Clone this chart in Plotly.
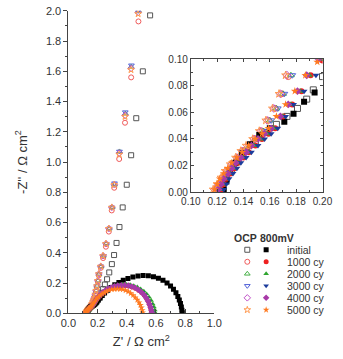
import plotly.graph_objects as go

# ---------------- data ----------------
labels = ["initial", "1000 cy", "2000 cy", "3000 cy", "4000 cy", "5000 cy"]

# OCP (open symbols)
ocp_init_x = [0.124,0.127,0.131,0.136,0.142,0.149,0.157,0.165,0.173,0.181,0.188,0.193,0.2,0.208,0.217,0.227,0.238,0.25,0.265,0.28,0.298,0.313,0.33,0.35,0.372,0.40,0.43,0.465,0.51,0.56]
ocp_init_y = [0.003,0.01,0.017,0.024,0.031,0.038,0.045,0.051,0.057,0.063,0.07,0.077,0.087,0.1,0.115,0.135,0.16,0.19,0.225,0.27,0.325,0.385,0.465,0.57,0.70,0.85,1.045,1.29,1.6,1.97]

ocp_1000_x = [0.119,0.122,0.125,0.128,0.132,0.136,0.14,0.144,0.149,0.154,0.159,0.164,0.169,0.174,0.179,0.184,0.19,0.195,0.202,0.208,0.222,0.238,0.257,0.277,0.297,0.314,0.348,0.388,0.43,0.48]
ocp_1000_y = [0.002,0.006,0.011,0.016,0.021,0.026,0.031,0.035,0.04,0.046,0.054,0.063,0.074,0.087,0.103,0.122,0.146,0.175,0.208,0.25,0.30,0.365,0.44,0.54,0.68,0.83,1.02,1.26,1.56,1.93]

ocp_2000_x = [0.12,0.123,0.126,0.129,0.133,0.137,0.141,0.145,0.15,0.155,0.16,0.165,0.17,0.176,0.181,0.186,0.192,0.197,0.204,0.21,0.224,0.24,0.26,0.28,0.30,0.316,0.35,0.39,0.43,0.48]
ocp_2000_y = [0.002,0.006,0.011,0.016,0.021,0.026,0.031,0.035,0.04,0.046,0.054,0.063,0.074,0.088,0.105,0.125,0.15,0.18,0.215,0.26,0.31,0.38,0.46,0.56,0.70,0.85,1.07,1.32,1.63,2.0]

ocp_3000_x = [0.121,0.124,0.127,0.13,0.134,0.138,0.142,0.146,0.151,0.156,0.161,0.166,0.171,0.177,0.182,0.187,0.192,0.198,0.204,0.211,0.224,0.24,0.259,0.279,0.299,0.316,0.35,0.39,0.432,0.478]
ocp_3000_y = [0.002,0.006,0.011,0.016,0.021,0.026,0.031,0.035,0.04,0.046,0.054,0.063,0.074,0.088,0.105,0.125,0.15,0.18,0.215,0.26,0.31,0.38,0.46,0.56,0.70,0.86,1.07,1.33,1.64,2.0]

ocp_4000_x = [0.118,0.121,0.124,0.127,0.131,0.135,0.139,0.143,0.148,0.153,0.158,0.163,0.168,0.173,0.179,0.185,0.19,0.196,0.202,0.209,0.222,0.238,0.258,0.278,0.298,0.315,0.349,0.389,0.43,0.479]
ocp_4000_y = [0.002,0.006,0.011,0.016,0.021,0.026,0.031,0.035,0.04,0.046,0.054,0.063,0.074,0.088,0.105,0.125,0.15,0.18,0.215,0.26,0.31,0.38,0.46,0.56,0.70,0.85,1.06,1.31,1.62,1.99]

ocp_5000_x = [0.117,0.12,0.123,0.126,0.13,0.134,0.138,0.142,0.147,0.152,0.157,0.162,0.167,0.172,0.178,0.184,0.19,0.195,0.201,0.208,0.221,0.237,0.257,0.277,0.297,0.314,0.348,0.388,0.429,0.478]
ocp_5000_y = [0.002,0.006,0.011,0.016,0.021,0.026,0.031,0.035,0.04,0.046,0.054,0.063,0.074,0.088,0.105,0.125,0.15,0.18,0.215,0.26,0.31,0.38,0.46,0.56,0.70,0.85,1.05,1.30,1.61,1.98]

# 800 mV (filled symbols)
mv_init_x = [0.125,0.127,0.130,0.134,0.139,0.145,0.152,0.160,0.171,0.178,0.186,0.194,0.205,0.218,0.232,0.248,0.268,0.292,0.318,0.346,0.376,0.408,0.442,0.477,0.512,0.548,0.583,0.617,0.648,0.676,0.700,0.720,0.737,0.750,0.760,0.768,0.774,0.778,0.780]
mv_init_y = [0.002,0.008,0.015,0.022,0.029,0.036,0.043,0.048,0.053,0.059,0.068,0.075,0.087,0.101,0.117,0.134,0.152,0.170,0.188,0.204,0.218,0.230,0.240,0.246,0.249,0.248,0.242,0.232,0.218,0.200,0.180,0.158,0.135,0.111,0.087,0.064,0.041,0.020,0.003]

mv_1000_x = [0.123,0.125,0.127,0.130,0.133,0.136,0.140,0.144,0.149,0.154,0.159,0.164,0.170,0.177,0.184,0.191,0.200,0.211,0.224,0.239,0.256,0.275,0.296,0.318,0.341,0.365,0.389,0.413,0.437,0.460,0.482,0.502,0.520,0.535,0.547,0.556,0.563,0.568,0.570]
mv_1000_y = [0.002,0.006,0.010,0.014,0.018,0.022,0.026,0.030,0.035,0.040,0.044,0.048,0.057,0.066,0.076,0.088,0.099,0.111,0.124,0.136,0.148,0.159,0.168,0.175,0.180,0.183,0.183,0.180,0.174,0.165,0.153,0.138,0.120,0.100,0.079,0.058,0.038,0.019,0.003]

mv_2000_x = [0.123,0.125,0.127,0.130,0.133,0.136,0.140,0.144,0.148,0.153,0.158,0.163,0.170,0.176,0.183,0.190,0.199,0.210,0.224,0.240,0.258,0.278,0.300,0.324,0.348,0.373,0.398,0.423,0.448,0.472,0.495,0.517,0.536,0.553,0.567,0.578,0.586,0.592,0.595]
mv_2000_y = [0.002,0.006,0.010,0.014,0.018,0.022,0.026,0.030,0.035,0.040,0.044,0.048,0.057,0.066,0.076,0.088,0.100,0.113,0.127,0.140,0.153,0.164,0.174,0.182,0.187,0.190,0.190,0.188,0.182,0.173,0.160,0.145,0.127,0.106,0.084,0.062,0.041,0.021,0.004]

mv_3000_x = [0.125,0.127,0.129,0.132,0.135,0.138,0.142,0.146,0.151,0.156,0.161,0.166,0.172,0.178,0.186,0.195,0.204,0.215,0.228,0.243,0.260,0.279,0.300,0.322,0.345,0.369,0.393,0.417,0.441,0.464,0.486,0.506,0.524,0.539,0.551,0.560,0.567,0.572,0.575]
mv_3000_y = [0.002,0.006,0.010,0.014,0.018,0.022,0.026,0.030,0.035,0.040,0.044,0.048,0.057,0.066,0.076,0.088,0.099,0.111,0.124,0.137,0.149,0.160,0.169,0.176,0.181,0.184,0.184,0.181,0.175,0.166,0.154,0.139,0.121,0.101,0.080,0.059,0.039,0.020,0.004]

mv_4000_x = [0.121,0.123,0.125,0.128,0.131,0.134,0.138,0.142,0.146,0.151,0.156,0.161,0.168,0.174,0.181,0.188,0.197,0.208,0.221,0.236,0.253,0.272,0.293,0.315,0.338,0.362,0.386,0.410,0.434,0.457,0.479,0.499,0.517,0.532,0.545,0.555,0.563,0.568,0.571]
mv_4000_y = [0.002,0.006,0.010,0.014,0.018,0.022,0.026,0.030,0.035,0.040,0.044,0.048,0.057,0.066,0.076,0.088,0.100,0.113,0.126,0.139,0.151,0.162,0.171,0.178,0.183,0.186,0.186,0.183,0.177,0.168,0.155,0.140,0.122,0.102,0.081,0.060,0.040,0.021,0.004]

mv_5000_x = [0.118,0.120,0.122,0.125,0.128,0.131,0.135,0.139,0.144,0.149,0.154,0.159,0.165,0.172,0.179,0.187,0.196,0.206,0.218,0.231,0.246,0.262,0.279,0.297,0.316,0.335,0.354,0.373,0.392,0.410,0.427,0.443,0.458,0.472,0.484,0.494,0.501,0.506,0.509]
mv_5000_y = [0.002,0.006,0.010,0.014,0.018,0.022,0.026,0.030,0.035,0.040,0.044,0.048,0.057,0.066,0.076,0.088,0.098,0.108,0.118,0.128,0.137,0.145,0.152,0.157,0.160,0.161,0.160,0.157,0.151,0.143,0.132,0.119,0.104,0.088,0.071,0.054,0.037,0.020,0.004]

ocp_x = [ocp_init_x, ocp_1000_x, ocp_2000_x, ocp_3000_x, ocp_4000_x, ocp_5000_x]
ocp_y = [ocp_init_y, ocp_1000_y, ocp_2000_y, ocp_3000_y, ocp_4000_y, ocp_5000_y]
mv_x = [mv_init_x, mv_1000_x, mv_2000_x, mv_3000_x, mv_4000_x, mv_5000_x]
mv_y = [mv_init_y, mv_1000_y, mv_2000_y, mv_3000_y, mv_4000_y, mv_5000_y]

# ---------------- styles ----------------
open_syms = ["square-open", "circle-open", "triangle-up-open", "triangle-down-open", "diamond-open", "star-open"]
fill_syms = ["square", "circle", "triangle-up", "triangle-down", "diamond", "star"]
open_cols = ["#555555", "#f05a5a", "#45b045", "#5060d8", "#c050c8", "#ff9a50"]
fill_cols = ["#000000", "#ee2020", "#2fa52f", "#1c3c9c", "#a83aa8", "#ff7a20"]

W, H = 343, 359
FONT = "Liberation Sans, Arial, sans-serif"
TXT = "#333333"
LINE = "#444444"

def px(x):
    return x / W

def py(y):
    return 1 - y / H

fig = go.Figure()

for xa, ya, ms in [("x", "y", 5), ("x2", "y2", 6)]:
    for i in range(6):
        fig.add_trace(go.Scatter(
            x=ocp_x[i], y=ocp_y[i], mode="markers", xaxis=xa, yaxis=ya,
            marker=dict(symbol=open_syms[i], size=ms, color=open_cols[i], line=dict(width=1, color=open_cols[i])),
            showlegend=False, hoverinfo="skip"))
    for i in range(6):
        fig.add_trace(go.Scatter(
            x=mv_x[i], y=mv_y[i], mode="markers", xaxis=xa, yaxis=ya,
            marker=dict(symbol=fill_syms[i], size=ms, color=fill_cols[i], line=dict(width=0)),
            showlegend=False, hoverinfo="skip"))

# ---------------- hand-made legend (layout) ----------------
LEG_OPEN_X, LEG_FILL_X, LEG_TEXT_X = 252, 272, 292
LEG_HEAD_Y, LEG_ROW0_Y, LEG_ROW_H = 240, 252.5, 12.4
rows = list(range(6))
fig.add_trace(go.Scatter(
    x=[LEG_OPEN_X] * 6, y=[LEG_ROW0_Y + r * LEG_ROW_H for r in rows], mode="markers",
    xaxis="x3", yaxis="y3",
    marker=dict(symbol=open_syms, size=5, color=open_cols, line=dict(width=1, color=open_cols)),
    showlegend=False, hoverinfo="skip"))
fig.add_trace(go.Scatter(
    x=[LEG_FILL_X] * 6, y=[LEG_ROW0_Y + r * LEG_ROW_H for r in rows], mode="markers",
    xaxis="x3", yaxis="y3",
    marker=dict(symbol=fill_syms, size=5, color=fill_cols, line=dict(width=0)),
    showlegend=False, hoverinfo="skip"))

annots = []
for r in rows:
    annots.append(dict(x=LEG_TEXT_X, y=LEG_ROW0_Y + r * LEG_ROW_H, xref="x3", yref="y3",
                       text=labels[r], showarrow=False, xanchor="left", yanchor="middle",
                       font=dict(family=FONT, size=10.5, color=TXT)))
annots.append(dict(x=250, y=LEG_HEAD_Y, xref="x3", yref="y3", text="<b>OCP</b>", showarrow=False,
                   xanchor="center", yanchor="middle", font=dict(family=FONT, size=10.5, color=TXT)))
annots.append(dict(x=283, y=LEG_HEAD_Y, xref="x3", yref="y3", text="<b>800mV</b>", showarrow=False,
                   xanchor="center", yanchor="middle", font=dict(family=FONT, size=10.5, color=TXT)))

tickfont = dict(family=FONT, size=11, color=TXT)
insetfont = dict(family=FONT, size=10, color=TXT)

fig.update_layout(
    width=W, height=H, margin=dict(l=0, r=0, t=0, b=0),
    paper_bgcolor="white", plot_bgcolor="rgba(0,0,0,0)",
    font=dict(family=FONT, color=TXT),
    showlegend=False,
    annotations=annots,
    xaxis=dict(domain=[px(62), px(217)], range=[0, 1.0001], anchor="y",
               tickmode="linear", tick0=0, dtick=0.2, tickformat=".1f",
               ticks="inside", ticklen=4, tickcolor=LINE,
               minor=dict(dtick=0.1, ticks="inside", ticklen=2, tickcolor=LINE),
               showline=True, linecolor=LINE, linewidth=1, showgrid=False, zeroline=False,
               tickfont=tickfont,
               title=dict(text="Z' / Ω cm<sup>2</sup>", font=dict(family=FONT, size=13, color=TXT), standoff=8)),
    yaxis=dict(domain=[py(318), py(6)], range=[0, 2.0002], anchor="x",
               tickmode="linear", tick0=0, dtick=0.2, tickformat=".1f",
               ticks="outside", ticklen=4, tickcolor=LINE,
               minor=dict(dtick=0.1, ticks="outside", ticklen=2, tickcolor=LINE),
               showline=True, linecolor=LINE, linewidth=1, showgrid=False, zeroline=False,
               tickfont=tickfont,
               title=dict(text="-Z'' / Ω cm<sup>2</sup>", font=dict(family=FONT, size=13, color=TXT), standoff=15)),
    xaxis2=dict(domain=[px(192), px(332)], range=[0.10, 0.2001], anchor="y2",
                tickmode="linear", tick0=0.10, dtick=0.02, tickformat=".2f",
                ticks="inside", ticklen=3, tickcolor=LINE,
                minor=dict(dtick=0.01, ticks="inside", ticklen=2, tickcolor=LINE),
                showline=True, linecolor=LINE, linewidth=1, mirror="ticks",
                showgrid=False, zeroline=False, tickfont=insetfont),
    yaxis2=dict(domain=[py(193), py(56)], range=[0, 0.10001], anchor="x2",
                tickmode="linear", tick0=0, dtick=0.02, tickformat=".2f",
                ticks="inside", ticklen=3, tickcolor=LINE,
                minor=dict(dtick=0.01, ticks="inside", ticklen=2, tickcolor=LINE),
                showline=True, linecolor=LINE, linewidth=1, mirror="ticks",
                showgrid=False, zeroline=False, tickfont=insetfont),
    xaxis3=dict(domain=[0, 1], range=[0, W], visible=False, anchor="y3", fixedrange=True),
    yaxis3=dict(domain=[0, 1], range=[H, 0], visible=False, anchor="x3", fixedrange=True),
)

fig.write_html("out.html")
